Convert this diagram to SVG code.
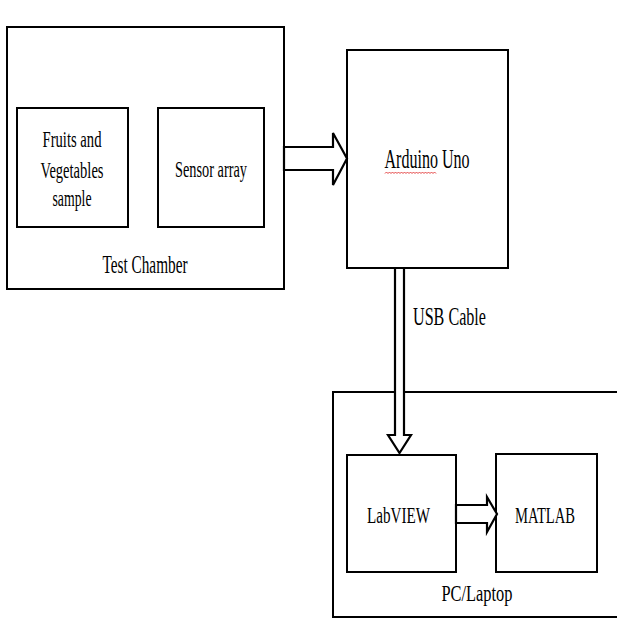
<svg xmlns="http://www.w3.org/2000/svg" width="617" height="619" viewBox="0 0 617 619">
<style>
.box{fill:#fff;stroke:#000;stroke-width:2}
.arr{fill:#fff;stroke:#000;stroke-width:2.2;stroke-linejoin:miter}
.t{font-family:"Liberation Serif","Times New Roman",serif;fill:#000;font-size:23px;text-anchor:middle}
</style>
<rect width="617" height="619" fill="#fff"/>
<g id="test-chamber">
<rect class="box" x="7" y="27" width="277" height="262"/>
<text class="t" x="145" y="273" style="font-size:25px" textLength="85" lengthAdjust="spacingAndGlyphs">Test Chamber</text>
</g>
<g id="fruits">
<rect class="box" x="17" y="108" width="111" height="119"/>
<text class="t" x="72" y="147" textLength="59" lengthAdjust="spacingAndGlyphs">Fruits and</text>
<text class="t" x="72" y="178" textLength="63" lengthAdjust="spacingAndGlyphs">Vegetables</text>
<text class="t" x="72" y="206" textLength="39" lengthAdjust="spacingAndGlyphs">sample</text>
</g>
<g id="sensor">
<rect class="box" x="158" y="108" width="106" height="119"/>
<text class="t" x="211" y="177" textLength="72" lengthAdjust="spacingAndGlyphs">Sensor array</text>
</g>
<g id="arduino">
<rect class="box" x="347" y="50" width="161" height="218"/>
<text class="t" x="427" y="168" style="font-size:27px" textLength="85" lengthAdjust="spacingAndGlyphs">Arduino Uno</text>
<path d="M385 173.5 l1.5 -1.5 l1.5 1.5 l1.5 -1.5 l1.5 1.5 l1.5 -1.5 l1.5 1.5 l1.5 -1.5 l1.5 1.5 l1.5 -1.5 l1.5 1.5 l1.5 -1.5 l1.5 1.5 l1.5 -1.5 l1.5 1.5 l1.5 -1.5 l1.5 1.5 l1.5 -1.5 l1.5 1.5 l1.5 -1.5 l1.5 1.5 l1.5 -1.5 l1.5 1.5 l1.5 -1.5 l1.5 1.5 l1.5 -1.5 l1.5 1.5 l1.5 -1.5 l1.5 1.5 l1.5 -1.5 l1.5 1.5 l1.5 -1.5 l1.5 1.5 l1.5 -1.5 l1.5 1.5" fill="none" stroke="#e03030" stroke-width="0.9"/>
</g>
<g id="pc-laptop">
<rect class="box" x="333" y="392" width="300" height="225"/>
<text class="t" x="477" y="601" textLength="71" lengthAdjust="spacingAndGlyphs">PC/Laptop</text>
</g>
<g id="labview">
<rect class="box" x="347" y="455" width="109" height="117"/>
<text class="t" x="398.5" y="523" textLength="63" lengthAdjust="spacingAndGlyphs">LabVIEW</text>
</g>
<g id="matlab">
<rect class="box" x="496" y="454" width="101" height="118"/>
<text class="t" x="545" y="523" textLength="60" lengthAdjust="spacingAndGlyphs">MATLAB</text>
</g>
<g id="connectors">
<polygon class="arr" points="284,147 333,147 333,133 347,158.5 333,185 333,170 284,170" stroke-width="2.6"/>
<polygon class="arr" points="395,268 404,268 404,435 411,435 399.5,453 388,435 395,435"/>
<polygon class="arr" points="456,505 487,505 487,497 497,514 487,532 487,523 456,523"/>
<text class="t" x="449.5" y="325" style="font-size:25px" textLength="73" lengthAdjust="spacingAndGlyphs">USB Cable</text>
</g>
</svg>
